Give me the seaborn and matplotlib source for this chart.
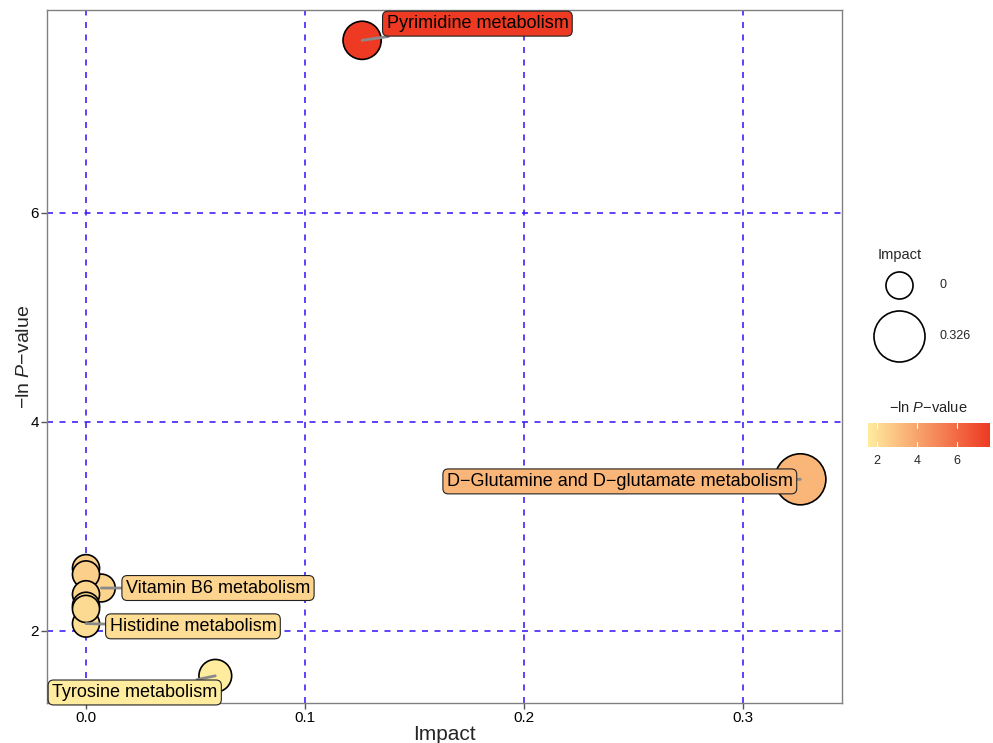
import matplotlib
matplotlib.use("Agg")
import matplotlib.pyplot as plt
from matplotlib.colors import LinearSegmentedColormap, Normalize
import numpy as np
import pandas as pd
import seaborn as sns

# Pathway enrichment results
pathways = [
    "Pyrimidine metabolism",
    "D\u2212Glutamine and D\u2212glutamate metabolism",
    "Tyrosine metabolism",
    "Vitamin B6 metabolism",
    "Histidine metabolism",
    "", "", "", "", "",
]
impact = [0.126, 0.326, 0.059, 0.007, 0.0, 0.0, 0.0, 0.0, 0.0, 0.0]
neg_ln_p = [7.65, 3.45, 1.57, 2.41, 2.07, 2.60, 2.54, 2.35, 2.24, 2.21]

x_ticks = [0.0, 0.1, 0.2, 0.3]
y_ticks = [2, 4, 6]
cbar_ticks = [2, 4, 6]

# label offsets (points) from each labelled pathway's centre
label_offsets = {
    "Pyrimidine metabolism": (83, 12),
    "D\u2212Glutamine and D\u2212glutamate metabolism": (-130, -1.5),
    "Tyrosine metabolism": (-58, -12),
    "Vitamin B6 metabolism": (84, 0),
    "Histidine metabolism": (77, -2),
}

df = pd.DataFrame({"pathway": pathways, "impact": impact, "neglogp": neg_ln_p})

sns.set_theme(style="white")
plt.rcParams["font.family"] = ["Liberation Sans", "DejaVu Sans"]
plt.rcParams["mathtext.fontset"] = "custom"
plt.rcParams["mathtext.rm"] = "Liberation Sans"
plt.rcParams["mathtext.it"] = "Liberation Sans:italic"

cmap = LinearSegmentedColormap.from_list("ylred", ["#FFEC9E", "#EE3A22"])
vmin, vmax = min(neg_ln_p), max(neg_ln_p)
norm = Normalize(vmin, vmax)
size_range = (380, 1350)
size_lim = (0, max(impact))


def size_of(v):
    return size_range[0] + (v - size_lim[0]) / (size_lim[1] - size_lim[0]) * (size_range[1] - size_range[0])


fig = plt.figure(figsize=(9.93, 7.43), dpi=100)
ax = fig.add_axes([47 / 993, 1 - 703 / 743, (842 - 47) / 993, (703 - 10) / 743])

grid_col = "#3F22FA"
for xv in x_ticks:
    ax.axvline(xv, color=grid_col, lw=1.2, ls=(0, (3.6, 3.9)), zorder=0)
for yv in y_ticks:
    ax.axhline(yv, color=grid_col, lw=1.2, ls=(0, (3.6, 3.9)), zorder=0)

sns.scatterplot(
    data=df, x="impact", y="neglogp",
    hue="neglogp", palette=cmap, hue_norm=norm,
    size="impact", sizes=size_range, size_norm=size_lim,
    edgecolor="black", linewidth=1.2, legend=False, ax=ax, zorder=3,
)

for _, row in df.iterrows():
    if not row["pathway"]:
        continue
    col = cmap(norm(row["neglogp"]))
    dx, dy = label_offsets[row["pathway"]]
    ax.annotate(
        row["pathway"], xy=(row["impact"], row["neglogp"]),
        xytext=(dx, dy), textcoords="offset points",
        ha="center", va="center", fontsize=13, color="black", zorder=5,
        bbox=dict(boxstyle="round,pad=0.22,rounding_size=0.3", fc=col, ec="#222222", lw=0.8),
        arrowprops=dict(arrowstyle="-", color="#8a8a8a", lw=2, shrinkA=0, shrinkB=0),
    )

ax.set_xlim(-0.0178, 0.345)
ax.set_ylim(1.31, 7.94)
ax.set_xticks(x_ticks)
ax.set_xticklabels(["0.0", "0.1", "0.2", "0.3"])
ax.set_yticks(y_ticks)
ax.tick_params(axis="both", which="both", length=4, width=1, color="#555555",
               labelsize=11, labelcolor="black", left=True, bottom=True, pad=2)
for sp in ax.spines.values():
    sp.set_color("#808080")
    sp.set_linewidth(1.0)
ax.set_xlabel("Impact", fontsize=15, labelpad=0)
ax.set_ylabel("\u2212ln $\\mathit{P}$\u2212value", fontsize=14, labelpad=-2)

# legend overlay in pixel coordinates
lax = fig.add_axes([0, 0, 1, 1])
lax.set_xlim(0, 993)
lax.set_ylim(743, 0)
lax.axis("off")
lax.text(900, 255, "Impact", ha="center", va="center", fontsize=10.5)
for v, yy in [(0, 285), (max(impact), 336)]:
    lax.scatter([899], [yy], s=size_of(v), facecolor="white", edgecolor="black", lw=1.2)
    lax.text(939, yy, f"{v:g}" if v else "0", ha="left", va="center", fontsize=9)
lax.text(928, 407, "\u2212ln $\\mathit{P}$\u2212value", ha="center", va="center", fontsize=10.5)

# colour bar
px_per_unit = 20.0
left_px = 877 - (cbar_ticks[0] - vmin) * px_per_unit
width_px = (vmax - vmin) * px_per_unit
cax = fig.add_axes([left_px / 993, 1 - 447 / 743, width_px / 993, 24 / 743])
grad = np.linspace(vmin, vmax, 256)[None, :]
cax.imshow(grad, aspect="auto", cmap=cmap, norm=norm, extent=(vmin, vmax, 0, 1))
for t in cbar_ticks:
    cax.plot([t, t], [0, 0.2], color="white", lw=0.8)
    cax.plot([t, t], [0.8, 1], color="white", lw=0.8)
cax.set_xlim(vmin, vmax)
cax.set_ylim(0, 1)
cax.set_yticks([])
cax.set_xticks(cbar_ticks)
cax.tick_params(axis="x", length=0, labelsize=9, pad=6)
for sp in cax.spines.values():
    sp.set_visible(False)

fig.savefig("out.png", dpi=100)
